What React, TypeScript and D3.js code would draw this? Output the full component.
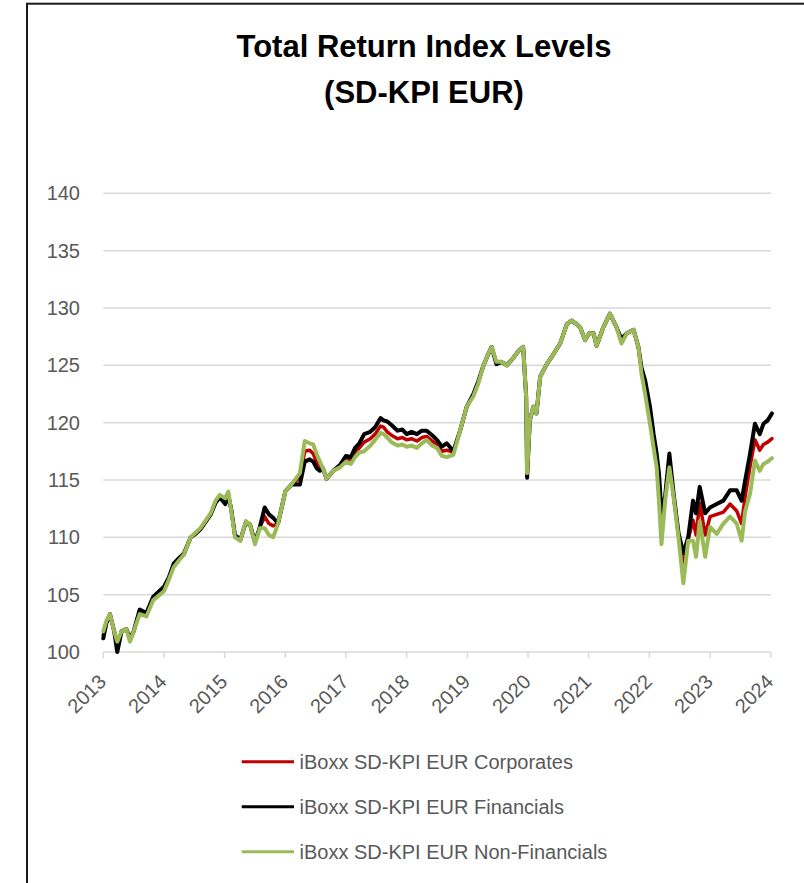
import * as d3 from 'd3'
import React from "react";

// decimal years
const dates = [
  2013.0, 2013.05, 2013.11, 2013.18, 2013.23, 2013.3, 2013.38, 2013.44, 2013.5, 2013.6, 2013.71, 2013.82,
  2014.0, 2014.08, 2014.16, 2014.25, 2014.33, 2014.44, 2014.52, 2014.6, 2014.68, 2014.77, 2014.85, 2014.92,
  2015.01, 2015.06, 2015.11, 2015.17, 2015.26, 2015.35, 2015.42, 2015.5, 2015.58, 2015.66, 2015.73, 2015.8, 2015.88,
  2016.0, 2016.1, 2016.24, 2016.32, 2016.4, 2016.46, 2016.52, 2016.57, 2016.62, 2016.68, 2016.79, 2016.9,
  2017.0, 2017.08, 2017.15, 2017.22, 2017.3, 2017.4, 2017.48, 2017.57, 2017.62, 2017.68, 2017.75, 2017.85, 2017.93,
  2018.0, 2018.08, 2018.17, 2018.25, 2018.33, 2018.42, 2018.5, 2018.58, 2018.66, 2018.77, 2018.88, 2018.99,
  2019.1, 2019.18, 2019.26, 2019.33, 2019.4, 2019.48, 2019.56, 2019.65, 2019.75, 2019.85, 2019.92, 2019.97, 2019.985,
  2020.03, 2020.09, 2020.14, 2020.2, 2020.31, 2020.41, 2020.53, 2020.64, 2020.72, 2020.8, 2020.86, 2020.94,
  2021.01, 2021.08, 2021.13, 2021.24, 2021.35, 2021.46, 2021.54, 2021.63, 2021.74, 2021.82, 2021.87, 2021.93,
  2022.01, 2022.07, 2022.12, 2022.16, 2022.2, 2022.26, 2022.33, 2022.4, 2022.48, 2022.56, 2022.64, 2022.72, 2022.77, 2022.83, 2022.92,
  2023.0, 2023.11, 2023.22, 2023.33, 2023.44, 2023.52, 2023.58, 2023.66, 2023.74, 2023.82, 2023.88, 2023.95, 2024.02,
];

const corporates = [
  101.5, 102.6, 103.3, 101.8, 100.5, 101.8, 102.0, 101.0, 101.8, 103.5, 103.3, 104.7,
  105.5, 106.4, 107.6, 108.1, 108.5, 110.0, 110.3, 110.7, 111.3, 112.0, 113.1, 113.6,
  113.2, 113.8, 112.4, 110.1, 109.7, 111.4, 111.1, 109.5, 110.9, 111.8, 111.2, 111.0, 111.2,
  114.0, 114.6, 115.2, 117.5, 117.6, 117.3, 116.5, 116.1, 116.0, 115.1, 115.8, 116.1,
  116.9, 116.7, 117.4, 117.8, 118.3, 118.6, 119.0, 119.7, 119.6, 119.2, 118.9, 118.6, 118.7,
  118.5, 118.6, 118.4, 118.7, 118.8, 118.4, 118.1, 117.5, 117.6, 117.4, 119.3, 121.4,
  122.4, 123.5, 124.9, 125.8, 126.6, 125.2, 125.3, 125.0, 125.6, 126.3, 126.6, 122.2, 115.4,
  120.2, 121.4, 120.8, 124.0, 125.1, 125.9, 126.9, 128.6, 128.9, 128.6, 128.3, 127.2,
  127.8, 127.8, 126.7, 128.3, 129.5, 128.3, 127.1, 127.8, 128.1, 126.6, 124.5, 123.1,
  120.6, 118.3, 116.7, 114.5, 110.8, 113.4, 116.7, 113.6, 110.2, 107.3, 109.8, 111.5, 110.2, 113.0, 110.2,
  111.8, 112.0, 112.2, 112.9, 112.3, 111.2, 113.6, 116.2, 118.5, 117.6, 118.1, 118.3, 118.6,
];

const financials = [
  101.2, 102.5, 103.3, 101.8, 100.0, 101.8, 102.0, 101.2, 101.8, 103.7, 103.4, 104.8,
  105.7, 106.5, 107.7, 108.2, 108.6, 110.0, 110.3, 110.7, 111.3, 112.0, 113.0, 113.5,
  112.9, 113.6, 112.4, 110.2, 109.8, 111.3, 111.1, 109.6, 110.9, 112.6, 112.0, 111.7, 111.2,
  114.0, 114.6, 114.6, 116.6, 116.8, 116.6, 116.0, 115.8, 116.0, 115.1, 115.8, 116.3,
  117.1, 117.0, 117.8, 118.2, 119.0, 119.2, 119.6, 120.4, 120.2, 120.1, 119.8, 119.3, 119.4,
  119.0, 119.2, 119.0, 119.3, 119.3, 118.9, 118.5, 117.9, 118.2, 117.5, 119.3, 121.4,
  122.5, 123.6, 124.9, 125.8, 126.6, 125.1, 125.3, 125.0, 125.6, 126.3, 126.6, 122.2, 115.2,
  120.2, 121.4, 120.8, 124.0, 125.1, 125.9, 126.9, 128.6, 128.9, 128.6, 128.3, 127.2,
  127.8, 127.8, 126.7, 128.3, 129.5, 128.3, 127.3, 127.8, 128.1, 126.6, 124.8, 123.7,
  121.4, 119.0, 117.3, 115.5, 112.1, 113.6, 117.3, 113.8, 110.4, 108.6, 110.0, 113.2, 112.1, 114.4, 112.1,
  112.6, 112.9, 113.2, 114.1, 114.1, 113.2, 115.0, 117.3, 119.9, 119.0, 119.9, 120.2, 120.8,
];

const nonFinancials = [
  101.8, 102.7, 103.3, 101.8, 100.9, 101.8, 102.0, 100.9, 101.8, 103.3, 103.1, 104.5,
  105.3, 106.3, 107.4, 108.0, 108.5, 110.0, 110.4, 110.8, 111.4, 112.1, 113.2, 113.7,
  113.4, 114.0, 112.3, 110.0, 109.7, 111.4, 111.1, 109.4, 110.8, 110.8, 110.2, 110.0, 111.2,
  114.0, 114.6, 115.6, 118.4, 118.2, 118.1, 117.2, 116.6, 116.0, 115.1, 115.8, 116.1,
  116.6, 116.4, 117.0, 117.4, 117.5, 118.0, 118.5, 119.1, 119.0, 118.7, 118.3, 118.0, 118.1,
  117.9, 118.0, 117.8, 118.2, 118.5, 118.0, 117.8, 117.1, 117.0, 117.2, 119.3, 121.4,
  122.3, 123.4, 124.9, 125.8, 126.6, 125.3, 125.3, 125.0, 125.6, 126.3, 126.6, 122.2, 115.6,
  120.2, 121.4, 120.8, 124.0, 125.1, 125.9, 126.9, 128.6, 128.9, 128.6, 128.3, 127.2,
  127.8, 127.8, 126.7, 128.3, 129.5, 128.3, 126.9, 127.8, 128.1, 126.6, 124.3, 122.5,
  119.9, 117.8, 116.1, 113.0, 109.4, 113.2, 116.1, 113.5, 110.0, 106.0, 109.7, 109.7, 108.3, 111.4, 108.3,
  110.9, 110.3, 111.2, 111.8, 111.2, 109.7, 112.3, 113.8, 116.7, 115.8, 116.4, 116.6, 116.9,
];

const years = [2013, 2014, 2015, 2016, 2017, 2018, 2019, 2020, 2021, 2022, 2023, 2024];
const yTicks = [100, 105, 110, 115, 120, 125, 130, 135, 140];

const seriesNames = [
  "iBoxx SD-KPI EUR Corporates",
  "iBoxx SD-KPI EUR Financials",
  "iBoxx SD-KPI EUR Non-Financials",
];
const seriesColors = ["#C00000", "#000000", "#9BBB59"];
const seriesWidths = [3.5, 4, 4];

const font = "'Liberation Sans', Arial, sans-serif";

const App: React.FC = () => {
  const x = d3.scaleLinear().domain([2013, 2024]).range([103.3, 770.7]);
  const y = d3.scaleLinear().domain([100, 140]).range([652, 193.3]);

  const allSeries = [corporates, financials, nonFinancials];
  const line = d3.line<number>()
    .x((_, i) => x(dates[i]))
    .y(d => y(d));

  return (
    <div style={{ position: "absolute", left: 0, top: 0 }}>
      <svg width={804} height={883} style={{ display: "block" }}>
        <rect x={0} y={0} width={804} height={883} fill="#fff" />
        <rect x={27} y={3.7} width={800} height={900} fill="#fff" stroke="#1a1a1a" strokeWidth={2} />

        <text x={424} y={57} textAnchor="middle" fontFamily={font} fontWeight="bold" fontSize={31} fill="#000">
          Total Return Index Levels
        </text>
        <text x={424} y={103} textAnchor="middle" fontFamily={font} fontWeight="bold" fontSize={31} fill="#000">
          (SD-KPI EUR)
        </text>

        {yTicks.filter(t => t > 100).map(t => (
          <line key={"g" + t} x1={x(2013)} x2={x(2024)} y1={y(t)} y2={y(t)} stroke="#D9D9D9" strokeWidth={1.5} />
        ))}
        {yTicks.map(t => (
          <text key={"yl" + t} x={80} y={y(t)} dy="0.35em" textAnchor="end" fontFamily={font} fontSize={20} fill="#595959">
            {t}
          </text>
        ))}

        <line x1={x(2013)} x2={x(2024)} y1={y(100)} y2={y(100)} stroke="#D9D9D9" strokeWidth={1.5} />
        {years.map(yr => (
          <g key={"xt" + yr}>
            <line x1={x(yr)} x2={x(yr)} y1={y(100)} y2={y(100) + 6} stroke="#D9D9D9" strokeWidth={1.5} />
            <text transform={`translate(${x(yr) + 4}, ${y(100) + 31}) rotate(-45)`} textAnchor="end"
              fontFamily={font} fontSize={20} fill="#595959">
              {yr}
            </text>
          </g>
        ))}

        {allSeries.map((s, i) => (
          <path key={"s" + i} d={line(s) || ""} fill="none" stroke={seriesColors[i]} strokeWidth={seriesWidths[i]}
            strokeLinejoin="round" strokeLinecap="round" />
        ))}

        {seriesNames.map((name, i) => {
          const ly = 761.7 + i * 45;
          return (
            <g key={"lg" + i}>
              <line x1={241.7} x2={294} y1={ly} y2={ly} stroke={seriesColors[i]} strokeWidth={3} />
              <text x={299.5} y={ly + 7} fontFamily={font} fontSize={20} fill="#595959">{name}</text>
            </g>
          );
        })}
      </svg>
    </div>
  );
};

export default App;
